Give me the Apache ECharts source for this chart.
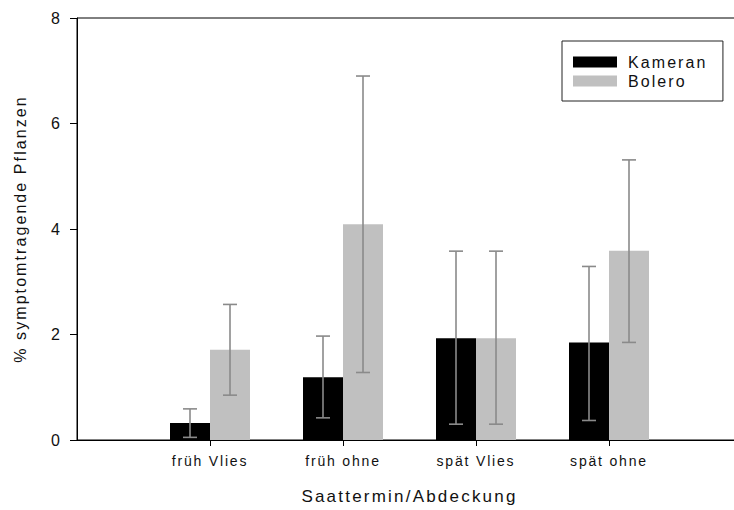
<!DOCTYPE html>
<html>
<head>
<meta charset="utf-8">
<script src="https://cdn.jsdelivr.net/npm/echarts@6/dist/echarts.min.js"></script>
<style>
  html, body { margin: 0; padding: 0; background: #fff; }
  #chart { width: 734px; height: 510px; }
  #chart text { letter-spacing: 0.13em; }
</style>
</head>
<body>
<div id="chart"></div>
<script>
// Saattermin / Abdeckung groups
const categories = ['früh Vlies', 'früh ohne', 'spät Vlies', 'spät ohne'];

// % symptom-bearing plants, means and error bar limits
const kameran     = [0.32, 1.19, 1.93, 1.85];
const kameranLow  = [0.05, 0.42, 0.30, 0.37];
const kameranHigh = [0.59, 1.97, 3.58, 3.29];

const bolero      = [1.71, 4.09, 1.93, 3.59];
const boleroLow   = [0.85, 1.28, 0.30, 1.85];
const boleroHigh  = [2.57, 6.90, 3.58, 5.31];

const yTicks = [0, 2, 4, 6, 8];

// axis has an empty slot on each side so groups sit at 1..4
const axisCats = [''].concat(categories, ['']);
const pad = arr => ['-'].concat(arr, ['-']);

const BAR_W = 40;
const CAP = 7;
const FONT = '"Liberation Sans", Arial, Helvetica, sans-serif';

function errorSeries(low, high, side) {
  return {
    type: 'custom',
    z: 5,
    silent: true,
    data: low.map((l, i) => [i + 1, l, high[i]]),
    encode: { x: 0, y: [1, 2] },
    renderItem: function (params, api) {
      const idx = api.value(0);
      const lo = api.coord([idx, api.value(1)]);
      const hi = api.coord([idx, api.value(2)]);
      const x = lo[0] + side * BAR_W / 2;
      const style = { stroke: '#8a8a8a', lineWidth: 1.6 };
      return {
        type: 'group',
        children: [
          { type: 'line', shape: { x1: x, y1: lo[1], x2: x, y2: hi[1] }, style: style },
          { type: 'line', shape: { x1: x - CAP, y1: hi[1], x2: x + CAP, y2: hi[1] }, style: style },
          { type: 'line', shape: { x1: x - CAP, y1: lo[1], x2: x + CAP, y2: lo[1] }, style: style }
        ]
      };
    }
  };
}

const chart = echarts.init(document.getElementById('chart'), null, { renderer: 'svg' });

chart.setOption({
  animation: false,
  backgroundColor: '#fff',
  grid: {
    left: 77, right: -8, top: 18, bottom: 70,
    outerBoundsMode: 'none',
    containLabel: false,
    show: true, borderColor: '#000', borderWidth: 1, backgroundColor: 'transparent'
  },
  legend: {
    data: ['Kameran', 'Bolero'],
    orient: 'vertical',
    left: 562, top: 41,
    icon: 'rect',
    itemWidth: 44, itemHeight: 11, itemGap: 3,
    padding: [13, 30, 12, 11],
    borderColor: '#222', borderWidth: 1,
    textStyle: { fontFamily: FONT, fontSize: 16, color: '#111', padding: [0, 0, 0, 6] }
  },
  xAxis: {
    type: 'category',
    data: axisCats,
    boundaryGap: false,
    name: 'Saattermin/Abdeckung',
    nameLocation: 'middle',
    nameGap: 48,
    nameTextStyle: { fontFamily: FONT, fontSize: 17, color: '#111' },
    axisLine: { lineStyle: { color: '#000', width: 1 } },
    axisTick: { show: true, length: 6, interval: (i) => i > 0 && i < axisCats.length - 1, lineStyle: { color: '#000' } },
    axisLabel: { interval: 0, margin: 14, fontFamily: FONT, fontSize: 14, color: '#111' },
    splitLine: { show: false }
  },
  yAxis: {
    type: 'value',
    min: yTicks[0], max: yTicks[yTicks.length - 1], interval: 2,
    name: '% symptomtragende Pflanzen',
    nameLocation: 'middle',
    nameRotate: 90,
    nameGap: 49,
    nameTextStyle: { fontFamily: FONT, fontSize: 16, color: '#111' },
    axisLine: { show: true, lineStyle: { color: '#000', width: 1 } },
    axisTick: { show: true, length: 7, lineStyle: { color: '#000' } },
    axisLabel: { margin: 15, fontFamily: FONT, fontSize: 16, color: '#111' },
    splitLine: { show: false }
  },
  series: [
    { name: 'Kameran', type: 'bar', data: pad(kameran), barWidth: BAR_W, barGap: '0%',
      itemStyle: { color: '#000' } },
    { name: 'Bolero', type: 'bar', data: pad(bolero), barWidth: BAR_W, barGap: '0%',
      itemStyle: { color: '#c0c0c0' } },
    errorSeries(kameranLow, kameranHigh, -1),
    errorSeries(boleroLow, boleroHigh, 1)
  ]
});
</script>
</body>
</html>
